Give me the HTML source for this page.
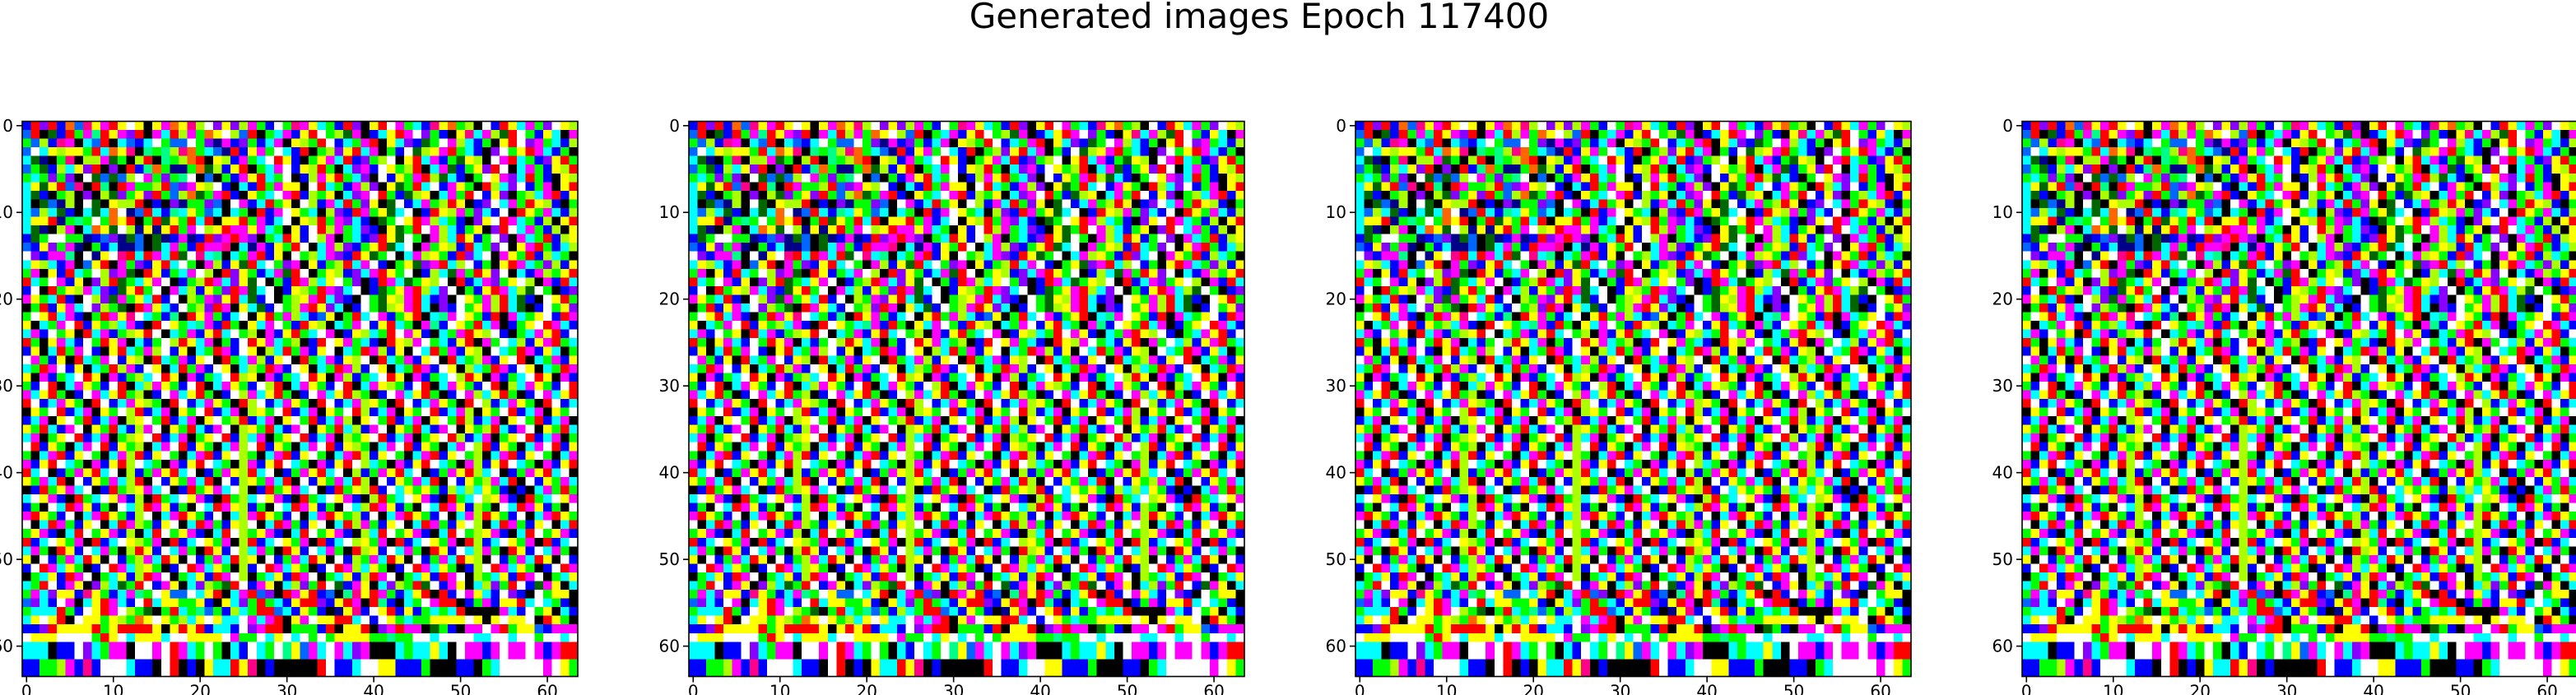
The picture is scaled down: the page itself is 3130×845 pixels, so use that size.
<!DOCTYPE html>
<html><head><meta charset="utf-8">
<style>
html,body{margin:0;padding:0;background:#fff;}
body{width:3130px;height:845px;overflow:hidden;position:relative;font-family:"DejaVu Sans","Liberation Sans",sans-serif;}
#title{position:absolute;left:-35px;width:3130px;top:-5px;text-align:center;font-size:42px;color:#000;}
svg{position:absolute;left:0;top:0;}
</style></head>
<body>
<div id="title">Generated images Epoch 117400</div>
<svg id="fig" width="3130" height="845"></svg>
<script>
const panelLefts = [27, 837, 1647, 2457];
const tickValues = [0, 10, 20, 30, 40, 50, 60];
const tickLabels = ["0", "10", "20", "30", "40", "50", "60"];
const palette = {r:"#ff0000",g:"#00ff00",b:"#0000ff",c:"#00ffff",m:"#ff00ff",y:"#ffff00",k:"#000000",w:"#ffffff",o:"#ff6600",p:"#8800ff",l:"#aaff00",n:"#000088",d:"#006600",s:"#ff0088",t:"#00ff88",u:"#0066ff"};
const imageRows = [
"brprbousymrywykymoyslwpyplmgbwgsmycgbrpkyrwmgcbsyoglkwbrycmgpwyl",
"urkdbrgmtrymprkmcrlmgoywlurkgcmbyrwgldmkbcyrmwpgbkyscmldrwgbyckm",
"gulbsmkcurkcubcwguuwgpnmbpgbcmkylgrwbcgmrkycpbdgwmlcbgkyrwpmgcbl",
"uwcylyygrcoysktgtlsogcunrbymgwcbrkglpyrcmkgbwdlymrgcbkpwgyrmcbgk",
"cdnkgskllmdgklrktglorkylbmgcwrybkgymcrbpglwkyrcmbgdylkwmrcgbpyrg",
"ugdblcyprkpkrbtognngodlbyrkgcmwbylrgkcpmbwyglrkcmdbgyprwkcmgbylr",
"gcgpgpkwdudulwmgpgtwkukgbmyrcgwkblmyrgcpkwbygmrldcbkgwympcrgbkyl",
"cydyruskrtkrmgglrupmylwbkcbrgmyykwrcgbmlpkydgrcwbmygkrlcpwbgmkyr",
"cdbkglkpkldpgyprgulodgmrbkygcwmrblgykcpmwrgbdlykcmgrwbypkglcmrby",
"ckdunlkwdkyllrkbkpnggpukwmbcrgykwlbmcrgpykdwbcmglrykbpwcmgrylbkg",
"culcdbkcdcownurcbtcyguckcgkrbmwygcklpbrmgydcwkbrylmgpcbwkrygmcbl",
"cyyrngtgwgoyrkgrdygrcrkyyrgmbcwkylrgmpcbkdgwyrmlcgbkpywrmcgblkyr",
"cdnklmkcoydwlnynyrgmwlyrmmymcgkybwrlmgcpbkydgrwmlcbgykprwcmgblky",
"bdgwwggnbupndukdnbmnbrpmrmpkgcrybwlmkgcbprydwgkmlcrybgwpkmcgrbly",
"ubypgmnkgbcnnukdcmgbrmmskcnmbygrwkcmlpbgyrdcwkmgylbrcgpwkymrgbcl",
"wpbmmtkwnywsrcrmcrdwsctkcgmrbykwglcmpbrydgwkcmlygbrpcwkmygrblcgk",
"cylcbmkuyrkmgpbyrcwgkmlbydrcwgpmkybglrcmwbkgydpmrclwbgkyrmcgplby",
"gmkybrcgwlpmdkrybgcmwlkrpygbcmdrwkgylbpcmrygwkblcdmgrypwkcbmlgyr",
"rcgwmbykplrdgcymwkbglrmcpydwkgbrmlcywgpkbrmcdgylwkrbcmpgywlkmbrc",
"bwkrgylmcpbdyrgwkmclbygprmdcwkbylgrmpcwkbdgymrlcpwkgbyrmcldwgkbp",
"mygcrbkwlpdmgycrbwklgmpyrcdbwkglymrcpbkwgdylmrcbpkwygmlrcdbkwyrg",
"kgrbymcwplgdkrmycbwglprmkycdbwglmrypckbwgdlymrckpbwgymlrcdkbwgyp",
"gwyrcmbkgrmyswcgbtkrymgbcwkyrgmlcbuykgrcwmbgyrkctmwygbrkmcgywbrm",
"ykcgmwrbyglcmbkrwygctmbrgkycmwgbrylkcgmwbyrcgkmtbwygrcmkbgywrmcb",
"cmbwgykrcmbglyrwkcgmbyrcwglkmbyrgcwmkbylcgrwmybkcgmrylwbkgcmyrbw",
"rgkymcbwgrymkcbgwlrycmkgbwrymcglkbrwymgcbkrylmwgcbyrkmgwclbymrgc",
"bykcrgmwbkyrcgmlwbykcgrmbwyklcrgmbywkcgrmlbykwcrgmbylkwcgrmbyckg",
"wmgbykrcgmwbylkrcgmbywkrgcmlbywkrgcmbylwkrcgmbywkrcglmbywrkcgmby",
"cgrmwbykcgrlmbwykcrgmbwykclgrmbwykcgrmlbwykcgrmbwyklcgrmbwykcgrm",
"ykmbgcwrykmbglcwrykmbgcwrlykmbgcwrykmlbgcwrykmbgcwlrykmbgcwrykmb",
"gbwrkcmygbwrkclmygbwrkcmygbwlrkcmygbwrkcmylgbwrkcmygbwrklcmygbwr",
"mcyrgkbwmcyrglkbwmcyrgkbwlmcyrgkbwmcyrlgkbwmcyrgkbwmlcyrgkbwmcyr",
"rwbcmygkrwbcmylgkrwbcmygkrlwbcmygkrwbcmlygkrwbcmygkrwlbcmygkrwbc",
"kygwrbcmkygwlrbcmkygwrbcmklygwrbcmkygwrlbcmkygwrbcmlkygwrbcmkygw",
"bcmkywgrbcmklywgrbcmkywglrbcmkywgrbcmlkywgrbcmkywgrlbcmkywgrbcmk",
"ygrcbmwkygrcblmwkygrcbmwklygrcbmwkygrclbmwkygrcbmwkyglrcbmwkygrc",
"cmkgywrbcmkglywrbcmkgywrblcmkgywrbcmklgywrbcmkgywrlbcmkgywrbcmkg",
"wrbygkcmwrbyglkcmwrbygkcmlwrbygkcmwrbylgkcmwrbygkcmwlrbygkcmwrby",
"gkcmrbywgkcmlrbywgkcmrbywlgkcmrbywgkcmrlbywgkcmrbywglkcmrbywgkcm",
"mbyrwcgkmbyrlwcgkmbyrwcgklmbyrwcgkmbyrwlcgkmbyrwcgkmlbyrwcgkmbyr",
"rcwkbgmyrcwklbgmyrcwkbgmylrcwkbgmyrcwklbgmyrcwkbgmyrlcwkbgmyrcwk",
"ygmcrkwbygmclrkwbygmcrkwblygmcrkwbygmcrlkwbygmcrkwbyglmcrkwbygmc",
"kbrgymcwkbrglymcwkbrgymcwlkbrgymcwkbrgyl",
"cwymbkrgcwymblkrgcwymbkrglcwymbkrgcwymbklrgcwymbkrgcwlymbkrgcwym",
"bgkwcrmybgkwclrmybgkwcrmylbgkwcrmybgkwclrmybgkwcrmyblgkwcrmybgkw",
"mrygbwkcmrygblwkcmrygbwkclmrygbwkcmryglbwkcmrygbwkcmlrygbwkcmryg",
"wkcrmgbywkcrmlgbywkcrmgbylwkcrmgbywkcrlmgbywkcrmgbywlkcrmgbywkcr",
"gymbkcrwgymblkcrwgymbkcrwlgymbkcrwgymbklcrwgymbkcrwglymbkcrwgymb",
"rbcwygmkrbcwylgmkrbcwygmklrbcwygmkrbcwlygmkrbcwygmkrlbcwygmkrbcw",
"cmgkrybwcmgklrybwcmgkrybwlcmgkrybwcmgkrlybwcmgkrybwclmgkrybwcmgk",
"ykwbgmcrykwbglmcrykwbgmcrlykwbgmcrykwblgmcrykwbgmcrylkwbgmcrykwb",
"bwrmcygkbwrmclygkbwrmcygklbwrmcygkbwrmlcygkbwrmcygkblwrmcygkbwrm",
"kgcybrmwkgcyblrmwkgcybrmwlkgcybrmwkgcyblrmwkgcybrmwklgcybrmwkgcy",
"cgrwbmykplcdgrwbmykcplgdrwbmykclpgrwdbmykcplgrdwbmykclpgrwbdmykc",
"gmcpyybsygbcmtgwyuuwcyrkcmrupkrmyrbuktsyrmgbcyrkrbwmycbwpbkwgyyk",
"upcbwmkcyrmcbwrcyyggybkycpgrgcbyrrpbyrmkrtbkcgwmrrkbgmbyyrcwcgbk",
"gcccrgbwyrmwlgdkgrcgtugblcgrrucbygbknysbwyrbybgcgcrkkkkmcbwgykcb",
"cywyrkwyygylgoywyglcywyccwmcmrkymwyyrrcwbwygcggyyyywykywyywkrygk",
"bbpryyyyrgyrrrrykyryrbccbwpmrrkgggbrkyyrkpmrmmkdgbkmmwmrgyyubmmm",
"wyyywwwwgrywcyyycwwyyyywmggwcywcwgwgyyyyggtggwwcwwwwccwwcwwgwwcw",
"ccckbbwpcgmmkwwmwrmcgwgkcbwcgwtyumcwmcpmkkkcgccyckwmmbmwmmwmbmrr",
"ccckbbwpcgmmkwwmwrmcgwgkcbwcgwtyumcwmcpmkkkcgccyckwmmbmwmmwmbmrr",
"bbgglmbsbwwwcbbkwrkbkyccryskbkkkkkrwbbcwwyybbbgkkkbbkgcwwwwwmwyg",
"bbgglmbsbwwwcbbkwrkbkyccryskbkkkkkrwbbcwwyybbbgkkkbbkgcwwwwwmwyg"
];
const NS = "http://www.w3.org/2000/svg";
const fig = document.getElementById("fig");
const cellSize = 675 / 64;
const top0 = 147.5;
function xScale(panelLeft, v) { return panelLeft + v * cellSize; }
function yScale(v) { return top0 + v * cellSize; }
function mk(tag, attrs) { const e = document.createElementNS(NS, tag); for (const k in attrs) e.setAttribute(k, attrs[k]); return e; }
panelLefts.forEach((L, pi) => {
  const g = mk("g", {"shape-rendering": "crispEdges"});
  
  
  fig.appendChild(g);
  imageRows.slice(0, 64).forEach((row, ri) => {
    for (let ci = 0; ci < 64; ci++) {
      let ch = row[ci];
      if (!ch) ch = row[(ci * 7 + ri) % row.length];
      const x0 = xScale(L, ci), y0 = yScale(ri);
      const r = mk("rect", {x: x0, y: y0, width: cellSize + 0.6, height: cellSize + 0.6, fill: palette[ch] || "#fff"});
      
      
      g.appendChild(r);
    }
  });
  const frame = mk("rect", {x: L, y: top0, width: 675, height: 675, fill: "none", stroke: "#000", "stroke-width": 1.6});
  
  
  fig.appendChild(frame);
  tickValues.forEach((tv, ti) => {
    const cx = xScale(L, tv + 0.5);
    const xt = mk("line", {x1: cx, x2: cx, y1: top0 + 675, y2: top0 + 675 + 7, stroke: "#000", "stroke-width": 1.6});
    
    
    fig.appendChild(xt);
    const xl = mk("text", {x: cx, y: top0 + 675 + 25, "text-anchor": "middle", "font-size": 20, "font-family": "DejaVu Sans, Liberation Sans, sans-serif"});
    xl.textContent = tickLabels[ti];
    
    
    fig.appendChild(xl);
    const cy = yScale(tv + 0.5);
    const yt = mk("line", {x1: L - 7, x2: L, y1: cy, y2: cy, stroke: "#000", "stroke-width": 1.6});
    
    
    fig.appendChild(yt);
    const yl = mk("text", {x: L - 11, y: cy + 7, "text-anchor": "end", "font-size": 20, "font-family": "DejaVu Sans, Liberation Sans, sans-serif"});
    yl.textContent = tickLabels[ti];
    
    
    fig.appendChild(yl);
  });
});
</script>
</body></html>
